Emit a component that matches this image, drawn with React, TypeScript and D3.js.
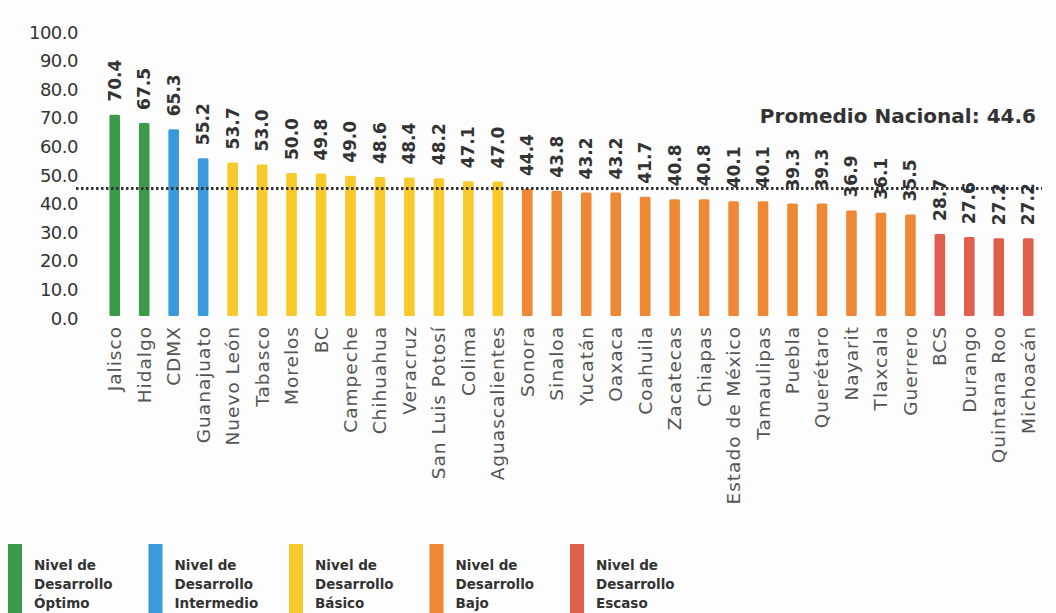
import { useMemo } from 'react'
import * as d3 from 'd3'

const states = [
  'Jalisco', 'Hidalgo', 'CDMX', 'Guanajuato', 'Nuevo León', 'Tabasco', 'Morelos', 'BC',
  'Campeche', 'Chihuahua', 'Veracruz', 'San Luis Potosí', 'Colima', 'Aguascalientes', 'Sonora', 'Sinaloa',
  'Yucatán', 'Oaxaca', 'Coahuila', 'Zacatecas', 'Chiapas', 'Estado de México', 'Tamaulipas', 'Puebla',
  'Querétaro', 'Nayarit', 'Tlaxcala', 'Guerrero', 'BCS', 'Durango', 'Quintana Roo', 'Michoacán',
]
const values = [
  70.4, 67.5, 65.3, 55.2, 53.7, 53.0, 50.0, 49.8,
  49.0, 48.6, 48.4, 48.2, 47.1, 47.0, 44.4, 43.8,
  43.2, 43.2, 41.7, 40.8, 40.8, 40.1, 40.1, 39.3,
  39.3, 36.9, 36.1, 35.5, 28.7, 27.6, 27.2, 27.2,
]
const levels = [
  'optimo', 'optimo', 'intermedio', 'intermedio', 'basico', 'basico', 'basico', 'basico',
  'basico', 'basico', 'basico', 'basico', 'basico', 'basico', 'bajo', 'bajo',
  'bajo', 'bajo', 'bajo', 'bajo', 'bajo', 'bajo', 'bajo', 'bajo',
  'bajo', 'bajo', 'bajo', 'bajo', 'escaso', 'escaso', 'escaso', 'escaso',
]
const yTicks = [0, 10, 20, 30, 40, 50, 60, 70, 80, 90, 100]
const promedio = 44.6

const legendKeys = ['optimo', 'intermedio', 'basico', 'bajo', 'escaso']
const legendLabels = [
  ['Nivel de', 'Desarrollo', 'Óptimo'],
  ['Nivel de', 'Desarrollo', 'Intermedio'],
  ['Nivel de', 'Desarrollo', 'Básico'],
  ['Nivel de', 'Desarrollo', 'Bajo'],
  ['Nivel de', 'Desarrollo', 'Escaso'],
]

const colors: Record<string, string> = {
  optimo: '#3b9a4a',
  intermedio: '#3a9bdc',
  basico: '#f7c92b',
  bajo: '#ef8834',
  escaso: '#dd5f4c',
}

const W = 1056
const H = 613
const FONT = '"DejaVu Sans", Verdana, sans-serif'

export default function App() {
  const x = useMemo(() => d3.scaleBand<string>().domain(states).range([100, 1043]).paddingInner(0.64).paddingOuter(0.32), [])
  const y = useMemo(() => d3.scaleLinear().domain([0, 100]).range([316, 30]), [])
  const legendX = d3.scalePoint<string>().domain(legendKeys).range([8, 570])

  const bw = x.bandwidth()

  return (
    <div style={{ position: 'absolute', left: 0, top: 0 }}>
      <svg width={W} height={H} style={{ display: 'block', background: '#fdfdfd' }}>
        {/* y tick labels */}
        <g>
          {yTicks.map(t => (
            <text key={t} x={78} y={y(t) + 2} textAnchor="end" dominantBaseline="central"
              style={{ fontFamily: FONT, fontSize: 18, fill: '#333', letterSpacing: '-0.5px' }}>
              {t.toFixed(1)}
            </text>
          ))}
        </g>

        {/* bars */}
        <g>
          {states.map((s, i) => (
            <rect key={s} x={x(s)!} y={y(values[i])} width={bw} height={y(0) - y(values[i])}
              rx={1.5} fill={colors[levels[i]]} />
          ))}
        </g>

        {/* national average */}
        <line x1={76} x2={1042} y1={y(promedio)} y2={y(promedio)}
          stroke="#333" strokeWidth={3} strokeDasharray="2.5 2.5" />
        <text x={1036} y={123} textAnchor="end"
          style={{ fontFamily: FONT, fontSize: 20, fontWeight: 'bold', fill: '#333' }}>
          Promedio Nacional: {promedio}
        </text>

        {/* value labels */}
        <g>
          {states.map((s, i) => {
            const cx = x(s)! + bw / 2
            const ty = y(values[i]) - 13
            return (
              <text key={s} transform={`translate(${cx},${ty}) rotate(-90)`} dominantBaseline="central"
                style={{ fontFamily: FONT, fontSize: 17, fontWeight: 'bold', fill: '#333' }}>
                {values[i].toFixed(1)}
              </text>
            )
          })}
        </g>

        {/* category labels */}
        <g>
          {states.map(s => {
            const cx = x(s)! + bw / 2
            return (
              <text key={s} transform={`translate(${cx},${326}) rotate(-90)`} textAnchor="end" dominantBaseline="central"
                style={{ fontFamily: FONT, fontSize: 18.5, fill: '#555', letterSpacing: '1px' }}>
                {s}
              </text>
            )
          })}
        </g>

        {/* legend */}
        <g>
          {legendKeys.map((k, i) => {
            const lx = legendX(k)!
            return (
              <g key={k} transform={`translate(${lx},544)`}>
                <rect x={0} y={0} width={14} height={H - 544} fill={colors[k]} />
                {legendLabels[i].map((line, j) => (
                  <text key={j} x={26} y={26 + j * 19}
                    style={{ fontFamily: FONT, fontSize: 13.5, fontWeight: 600, fill: '#333' }}>
                    {line}
                  </text>
                ))}
              </g>
            )
          })}
        </g>
      </svg>
    </div>
  )
}
